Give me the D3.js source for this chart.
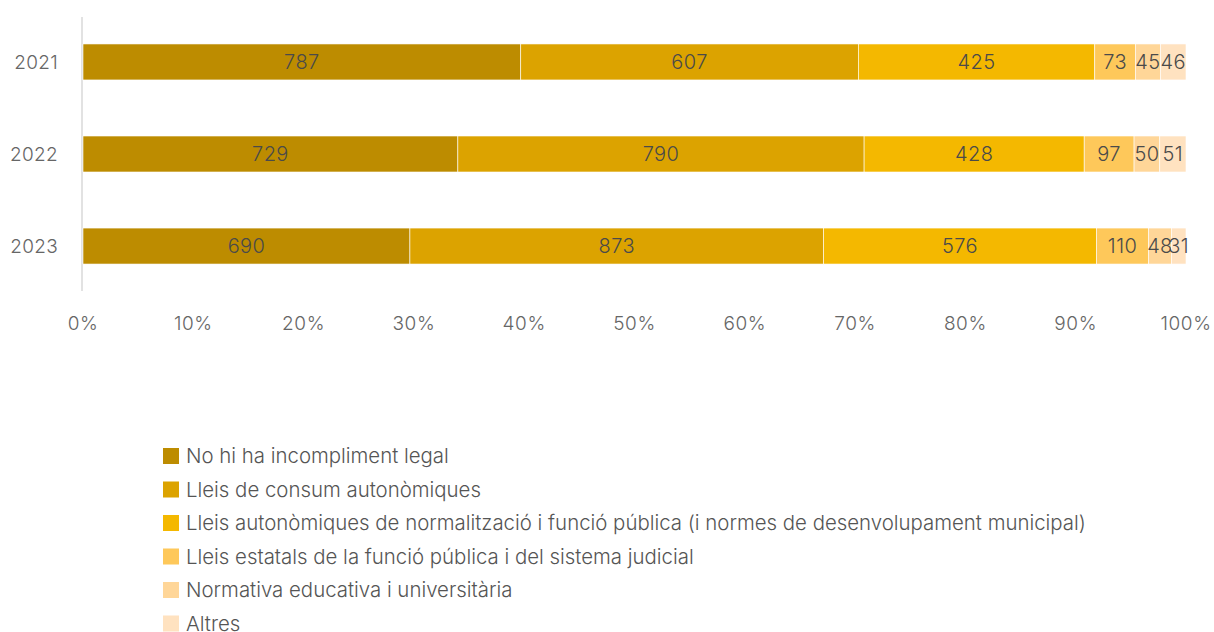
<!DOCTYPE html>
<html><head><meta charset="utf-8">
<script src="https://cdn.jsdelivr.net/npm/d3@7"></script>
<style>body{margin:0;background:#fff;font-family:Inter, "Liberation Sans", sans-serif;}</style>
</head><body><svg id="c" width="1214" height="632"></svg>
<script>
const years = ["2021","2022","2023"];
const seriesNames = ["No hi ha incompliment legal","Lleis de consum autonòmiques","Lleis autonòmiques de normalització i funció pública (i normes de desenvolupament municipal)","Lleis estatals de la funció pública i del sistema judicial","Normativa educativa i universitària","Altres"];
const noIncompliment = [787,729,690];
const consum = [607,790,873];
const normalitzacio = [425,428,576];
const estatals = [73,97,110];
const educativa = [45,50,48];
const altres = [46,51,31];
const tickLabels = ["0%","10%","20%","30%","40%","50%","60%","70%","80%","90%","100%"];
const colors = ["#BD8C00","#DCA300","#F4B800","#FEC85A","#FFD698","#FFE2C0"];

const seriesVals = [noIncompliment,consum,normalitzacio,estatals,educativa,altres];
const rows = years.map((y,i)=>{const o={year:y}; seriesNames.forEach((s,j)=>o[s]=seriesVals[j][i]); return o;});
const stack = d3.stack().keys(seriesNames).offset(d3.stackOffsetExpand)(rows);

const svg = d3.select("#c");
const x = d3.scaleLinear().domain([0,1]).range([83,1186]);
const y = d3.scaleBand().domain(years).range([17,291]).paddingInner(0.609).paddingOuter(0.293);

svg.append("line").attr("x1",82).attr("x2",82).attr("y1",17).attr("y2",291).attr("stroke","#d9d9d9").attr("stroke-width",1.5);

const g = svg.append("g");
stack.forEach((layer,j)=>{
  layer.forEach((d,i)=>{
    g.append("rect").attr("x",x(d[0])).attr("y",y(years[i])).attr("width",x(d[1])-x(d[0])).attr("height",y.bandwidth())
      .attr("fill",colors[j]).attr("stroke","#fff").attr("stroke-width",0.6);
    g.append("text").attr("x",(x(d[0])+x(d[1]))/2).attr("y",y(years[i])+y.bandwidth()/2).attr("dy","0.36em")
      .attr("text-anchor","middle").attr("font-size",20).attr("font-weight",300).attr("letter-spacing","0.4px").attr("fill","#4a4a4a")
      .text(seriesVals[j][i]);
  });
});

years.forEach(yr=>{
  svg.append("text").attr("x",58).attr("y",y(yr)+y.bandwidth()/2).attr("dy","0.36em").attr("text-anchor","end")
    .attr("font-size",19).attr("font-weight",300).attr("letter-spacing","0.3px").attr("fill","#666").text(yr);
});

const ticks = d3.range(0,1.0001,0.1);
ticks.forEach((t,i)=>{
  svg.append("text").attr("x",x(t)).attr("y",323).attr("dy","0.36em").attr("text-anchor","middle")
    .attr("font-size",19).attr("font-weight",300).attr("letter-spacing","0.6px").attr("fill","#666").text(tickLabels[i]);
});

const leg = svg.append("g");
seriesNames.forEach((s,j)=>{
  const ly = 456 + j*33.5;
  leg.append("rect").attr("x",163).attr("y",ly-8).attr("width",16).attr("height",16).attr("fill",colors[j]);
  leg.append("text").attr("x",186).attr("y",ly).attr("dy","0.36em").attr("font-size",20.4).attr("font-weight",300)
    .attr("fill","#555").text(s);
});
</script></body></html>
